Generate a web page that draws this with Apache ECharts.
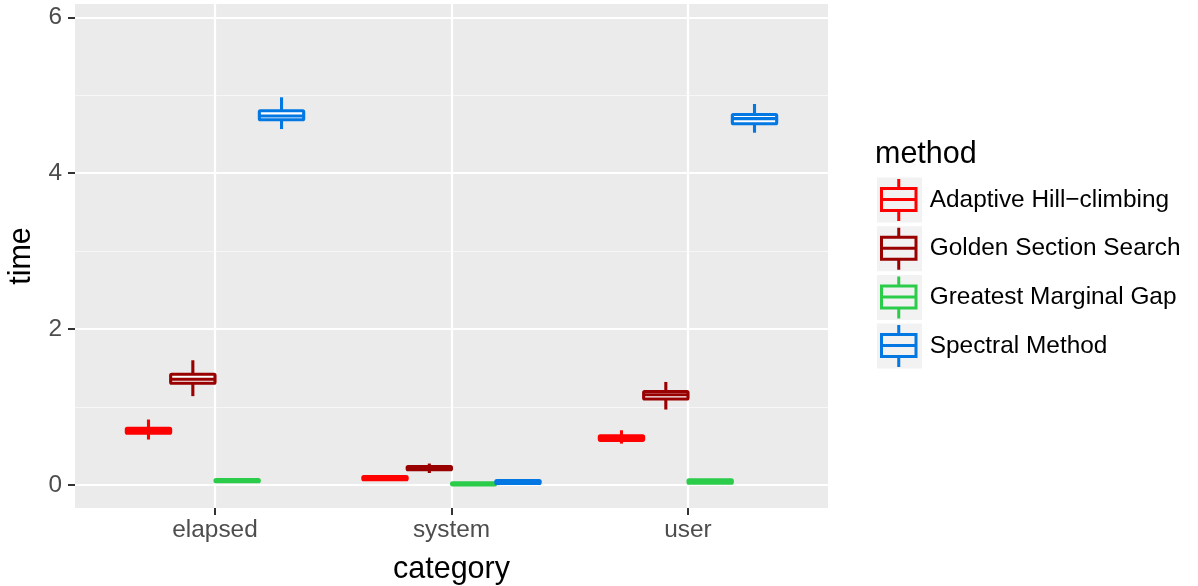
<!DOCTYPE html>
<html>
<head>
<meta charset="utf-8">
<script src="https://cdn.jsdelivr.net/npm/echarts@6/dist/echarts.min.js"></script>
<style>
html, body { margin: 0; padding: 0; background: #fff; }
#main { width: 1198px; height: 586px; }
</style>
</head>
<body>
<div id="main"></div>
<script>
var categories = ['elapsed', 'system', 'user'];
var methods = ['Adaptive Hill\u2212climbing', 'Golden Section Search', 'Greatest Marginal Gap', 'Spectral Method'];
var colors = ['#FF0000', '#990000', '#2CCC4B', '#0377E2'];
var yTicks = [0, 2, 4, 6];
var yMinorTicks = [1, 3, 5];

// each row: [min, q1, median, q3, max] for elapsed, system, user
var ahcStats = [
	[0.583, 0.664, 0.700, 0.728, 0.840],
	[0.065, 0.067, 0.088, 0.109, 0.115],
	[0.531, 0.573, 0.600, 0.632, 0.702]
];
var gssStats = [
	[1.140, 1.305, 1.357, 1.420, 1.600],
	[0.154, 0.195, 0.216, 0.237, 0.275],
	[0.968, 1.103, 1.158, 1.200, 1.322]
];
var gmgStats = [
	[0.035, 0.041, 0.055, 0.070, 0.080],
	[0.000, 0.002, 0.014, 0.028, 0.035],
	[0.020, 0.024, 0.045, 0.067, 0.070]
];
var smStats = [
	[4.566, 4.685, 4.733, 4.800, 4.973],
	[0.015, 0.020, 0.040, 0.058, 0.065],
	[4.519, 4.633, 4.700, 4.752, 4.887]
];
var allStats = [ahcStats, gssStats, gmgStats, smStats];

var font = "'Liberation Sans', Arial, sans-serif";
var slot = 0.75 / methods.length;

var myChart = echarts.init(document.getElementById('main'));

function renderBox(params, api) {
	var s = params.seriesIndex;
	var x = api.value(0) + (s - (methods.length - 1) / 2) * slot;
	var color = api.visual('color');
	var pMin = api.coord([x, api.value(1)]);
	var pQ1 = api.coord([x, api.value(2)]);
	var pMed = api.coord([x, api.value(3)]);
	var pQ3 = api.coord([x, api.value(4)]);
	var pMax = api.coord([x, api.value(5)]);
	var w = api.size([slot, 0])[0];
	var left = pMed[0] - w / 2;
	var st = { stroke: color, lineWidth: 3.1, lineCap: 'butt' };
	return {
		type : 'group',
		children : [
			{ type : 'line', shape : { x1 : pMax[0], y1 : pMax[1], x2 : pQ3[0], y2 : pQ3[1] }, style : st },
			{ type : 'line', shape : { x1 : pQ1[0], y1 : pQ1[1], x2 : pMin[0], y2 : pMin[1] }, style : st },
			{ type : 'rect', shape : { x : left, y : pQ3[1], width : w, height : pQ1[1] - pQ3[1], r : 1 },
				style : { fill : '#FFFFFF', stroke : color, lineWidth : 3.1, lineJoin : 'round' } },
			{ type : 'line', shape : { x1 : left, y1 : pMed[1], x2 : left + w, y2 : pMed[1] }, style : st }
		]
	};
}

var series = [];
for (var i = 0; i < methods.length; i++) {
	var rows = [];
	for (var j = 0; j < categories.length; j++) {
		rows.push([j + 1].concat(allStats[i][j]));
	}
	series.push({
		name : methods[i],
		type : 'custom',
		renderItem : renderBox,
		encode : { x : 0, y : [1, 2, 3, 4, 5] },
		data : rows
	});
}

var iconPath = 'path://M17.25 0H20.25V8H17.25Z M0 8H37.5V11H0Z M0 30H37.5V33H0Z M0 11H3V30H0Z ' +
	'M34.5 11H37.5V30H34.5Z M3 19H34.5V22H3Z M17.25 33H20.25V42H17.25Z';

var keyBg = [];
for (var k = 0; k < methods.length; k++) {
	keyBg.push({
		type : 'rect',
		left : 877,
		top : 177.5 + 48.7 * k,
		shape : { width : 45, height : 45 },
		style : { fill : '#F2F2F2' }
	});
}
keyBg.push({
	type : 'text',
	left : 875,
	top : 139,
	style : { text : 'method', font : '30.5px ' + font, fill : '#000000' }
});

option = {
	animation : false,
	color : colors,
	textStyle : { fontFamily : font },
	grid : {
		left : 75,
		right : 370,
		top : 4,
		bottom : 78,
		outerBoundsMode : 'none',
		containLabel : false,
		show : true,
		backgroundColor : '#EBEBEB',
		borderWidth : 0
	},
	xAxis : {
		type : 'value',
		min : 0.408,
		max : 3.592,
		name : 'category',
		nameLocation : 'middle',
		nameGap : 46,
		nameTextStyle : { fontSize : 30.5, color : '#000000', fontFamily : font },
		axisLine : { show : false, onZero : false },
		axisTick : { show : true, length : 7, customValues : [1, 2, 3], lineStyle : { color : '#333333', width : 2 } },
		axisLabel : {
			customValues : [1, 2, 3],
			margin : 10,
			fontSize : 24.4,
			color : '#4D4D4D',
			fontFamily : font,
			formatter : function (v) { return categories[Math.round(v) - 1]; }
		},
		splitLine : { show : true, lineStyle : { color : '#FFFFFF', width : 2.2 } }
	},
	yAxis : [
		{
			type : 'value',
			min : -0.295,
			max : 6.17,
			name : 'time',
			nameLocation : 'middle',
			nameGap : 38,
			nameTextStyle : { fontSize : 30.5, color : '#000000', fontFamily : font },
			axisLine : { show : false, onZero : false },
			axisTick : { show : true, length : 7, customValues : yTicks, lineStyle : { color : '#333333', width : 2 } },
			axisLabel : { customValues : yTicks, margin : 13, fontSize : 24.4, color : '#4D4D4D', fontFamily : font },
			splitLine : { show : true, lineStyle : { color : '#FFFFFF', width : 2.2 } }
		},
		{
			type : 'value',
			min : -0.295,
			max : 6.17,
			position : 'left',
			axisLine : { show : false, onZero : false },
			axisTick : { show : false, customValues : yMinorTicks },
			axisLabel : { show : false, customValues : yMinorTicks },
			splitLine : { show : true, lineStyle : { color : '#F7F7F7', width : 1.1 } }
		}
	],
	legend : {
		data : methods,
		orient : 'vertical',
		left : 880,
		top : 179,
		padding : 0,
		itemWidth : 38,
		itemHeight : 42,
		itemGap : 6.7,
		icon : iconPath,
		textStyle : { fontSize : 24.4, color : '#000000', fontFamily : font, padding : [0, 0, 0, 7] }
	},
	graphic : keyBg,
	series : series
};
myChart.setOption(option);
</script>
</body>
</html>
